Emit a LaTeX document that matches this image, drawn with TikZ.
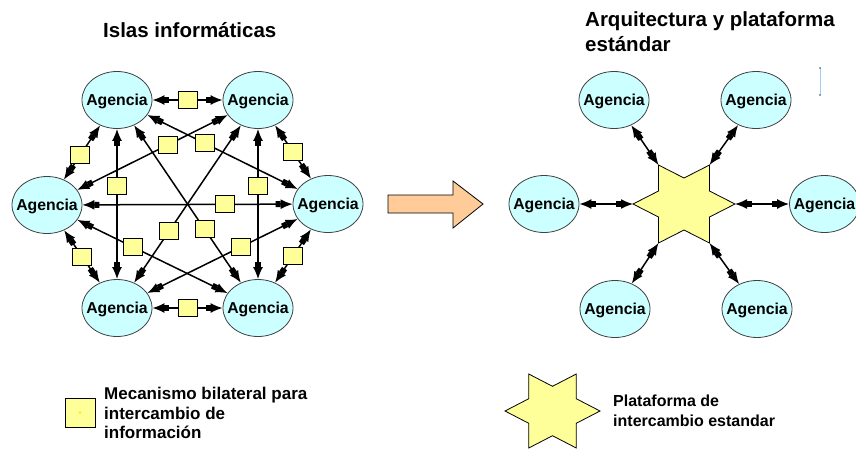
\documentclass[tikz,border=0pt]{standalone}
\usepackage{fontspec}
\setmainfont{Liberation Sans}
\usetikzlibrary{arrows.meta,shapes.geometric}
\definecolor{agcyan}{HTML}{CCFFFF}
\definecolor{sqyellow}{HTML}{FFFF99}
\definecolor{peach}{HTML}{FFCC99}
\definecolor{edgegray}{HTML}{404040}
\begin{document}
\begin{tikzpicture}[x=1pt,y=-1pt,
  agency/.style={ellipse, draw=edgegray, line width=0.8pt, fill=agcyan,
    minimum width=70pt, minimum height=57pt, inner sep=0pt,
    font=\fontsize{15.8}{18}\selectfont\bfseries, text height=11.5pt, text depth=0pt},
  conn/.style={line width=1.5pt,
    {Latex[length=12pt,width=10pt]Rectangle[length=5pt,width=6pt]}-{Rectangle[length=5pt,width=6pt]Latex[length=12pt,width=10pt]}},
  sq/.style={rectangle, draw=black, line width=0.8pt, fill=sqyellow,
    minimum width=19pt, minimum height=17pt, inner sep=0pt},
  title/.style={anchor=base west, inner sep=0pt, font=\fontsize{20.5}{25}\selectfont\bfseries},
  legend/.style={anchor=base west, inner sep=0pt, font=\fontsize{17}{20}\selectfont\bfseries},
  legendb/.style={anchor=base west, inner sep=0pt, font=\fontsize{16}{20}\selectfont\bfseries},
  starshape/.style={draw=black, line width=0.8pt, fill=sqyellow},
  ]
\clip (0,0) rectangle (856,451);
\fill[white] (0,0) rectangle (856,451);

% titles
\node[title] (t1) at (103,37.7) {Islas informáticas};
\node[title] (t2a) at (585,26) {Arquitectura y plataforma};
\node[title] (t2b) at (585,51.5) {estándar};

% ---------- left diagram ----------
\node[agency] (LT) at (117,100) {\makebox[0pt]{Agencia}};
\node[agency] (RT) at (258,100) {\makebox[0pt]{Agencia}};
\node[agency] (LL) at (47,205) {\makebox[0pt]{Agencia}};
\node[agency] (LR) at (328,204) {\makebox[0pt]{Agencia}};
\node[agency] (LBL) at (117,308) {\makebox[0pt]{Agencia}};
\node[agency] (LBR) at (258,308) {\makebox[0pt]{Agencia}};

\draw[conn] (LT) -- (RT);
\draw[conn] (LBL) -- (LBR);
\draw[conn] (LT) -- (LBL);
\draw[conn] (RT) -- (LBR);
\draw[conn] (LL) -- (LR);
\draw[conn] (LT) -- (LL);
\draw[conn] (RT) -- (LR);
\draw[conn] (LL) -- (LBL);
\draw[conn] (LR) -- (LBR);
\draw[conn] (LT) -- (LBR);
\draw[conn] (RT) -- (LBL);
\draw[conn] (LT) -- (LR);
\draw[conn] (RT) -- (LL);
\draw[conn] (LL) -- (LBR);
\draw[conn] (LR) -- (LBL);

\path (LT) -- (RT) node[sq,pos=.5] (s1) {};
\path (LBL) -- (LBR) node[sq,pos=.5] (s2) {};
\path (LT) -- (LBL) node[sq,pos=.38] (s3) {};
\path (RT) -- (LBR) node[sq,pos=.38] (s4) {};
\path (LL) -- (LR) node[sq,pos=.68] (s5) {};
\path (LT) -- (LL) node[sq,pos=.55] (s6) {};
\path (RT) -- (LR) node[sq,pos=.5] (s7) {};
\path (LL) -- (LBL) node[sq,pos=.5] (s8) {};
\path (LR) -- (LBR) node[sq,pos=.5] (s9) {};
\path (LT) -- (LBR) node[sq,pos=.66] (s10) {};
\path (RT) -- (LBL) node[sq,pos=.67] (s11) {};
\path (LT) -- (LR) node[sq,pos=.38] (s12) {};
\path (RT) -- (LL) node[sq,pos=.40] (s13) {};
\path (LL) -- (LBR) node[sq,pos=.37] (s14) {};
\path (LR) -- (LBL) node[sq,pos=.38] (s15) {};

% ---------- big arrow ----------
\draw[line width=0.8pt, fill=peach] (388,195) -- (453,195) -- (453,181) -- (483,204)
  -- (453,228) -- (453,213) -- (388,213) -- cycle;

% ---------- right diagram ----------
\draw[starshape] (735,204) -- (709.5,191) -- (709.5,165) -- (684,178) -- (658.5,165)
  -- (658.5,191) -- (633,204) -- (658.5,217) -- (658.5,243) -- (684,230)
  -- (709.5,243) -- (709.5,217) -- cycle;
\coordinate (p0) at (735,204);
\coordinate (p60) at (709.5,165);
\coordinate (p120) at (658.5,165);
\coordinate (p180) at (633,204);
\coordinate (p240) at (658.5,243);
\coordinate (p300) at (709.5,243);

\node[agency] (rTL) at (614,100) {\makebox[0pt]{Agencia}};
\node[agency] (rTR) at (756,100) {\makebox[0pt]{Agencia}};
\node[agency] (rL) at (544,204) {\makebox[0pt]{Agencia}};
\node[agency] (rR) at (824.5,204) {\makebox[0pt]{Agencia}};
\node[agency] (rBL) at (615,309) {\makebox[0pt]{Agencia}};
\node[agency] (rBR) at (757,309) {\makebox[0pt]{Agencia}};

\draw[conn] (rTL) -- (p120);
\draw[conn] (rTR) -- (p60);
\draw[conn] (rL) -- (p180);
\draw[conn] (rR) -- (p0);
\draw[conn] (rBL) -- (p240);
\draw[conn] (rBR) -- (p300);

% small mark top right
\draw[agcyan!80!blue, line width=1pt] (820,68) -- (820,95);
\fill[black!70] (820,68) circle (0.8) (820,95) circle (0.8);

% ---------- legend ----------
\node[sq, minimum width=30pt, minimum height=29pt] (lsq) at (80,412.5) {};
\fill[yellow] (lsq.center) circle (1.5);
\node[legend] (lt1) at (104,399.3) {Mecanismo bilateral para};
\node[legend] (lt2) at (104,419) {intercambio de};
\node[legend] (lt3) at (104,438.3) {información};

\draw[starshape] (600,411) -- (576.25,398.7) -- (576.25,374) -- (552.5,386.3) -- (528.75,374)
  -- (528.75,398.7) -- (505,411) -- (528.75,423.3) -- (528.75,448) -- (552.5,435.7)
  -- (576.25,448) -- (576.25,423.3) -- cycle;
\node[legendb] (lt4) at (613,406.7) {Plataforma de};
\node[legendb] (lt5) at (613,426.7) {intercambio estandar};
\end{tikzpicture}
\end{document}
